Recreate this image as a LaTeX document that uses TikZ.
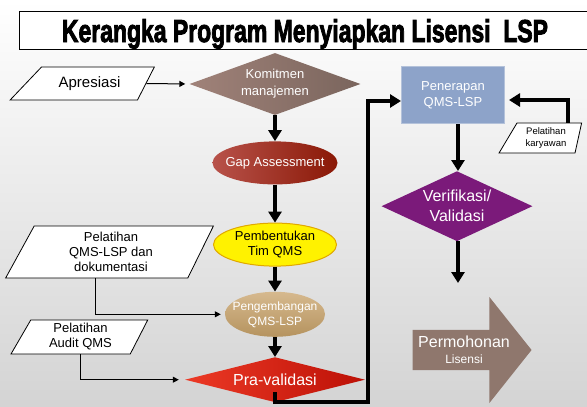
\documentclass[tikz,border=0pt]{standalone}
\usepackage{fontspec}
\setmainfont{Liberation Sans}
\newfontfamily\titlefont{Liberation Sans}[BoldFeatures={FakeBold=3}]
\usepackage{graphicx}
\usetikzlibrary{shapes.geometric}
\usetikzlibrary{shapes.arrows}
\usetikzlibrary{arrows.meta}
\usetikzlibrary{positioning}

\definecolor{komitmenL}{HTML}{A08279}
\definecolor{komitmenR}{HTML}{7A655D}
\definecolor{gapL}{HTML}{B8524A}
\definecolor{gapR}{HTML}{8A1806}
\definecolor{timfill}{HTML}{FFF200}
\definecolor{timdraw}{HTML}{E0A800}
\definecolor{kembangT}{HTML}{D6B98E}
\definecolor{kembangB}{HTML}{B5935F}
\definecolor{praL}{HTML}{EC3A26}
\definecolor{praR}{HTML}{BC1006}
\definecolor{terapfill}{HTML}{8DA3C9}
\definecolor{terapdraw}{HTML}{B4C2DA}
\definecolor{verifill}{HTML}{7B1A7A}
\definecolor{mohonfill}{HTML}{8F776D}

\tikzset{
  inputbox/.style={trapezium, trapezium stretches=true, draw=black, fill=white,
    line width=0.8pt, inner sep=1pt, align=center, font=\fontsize{13}{15}\selectfont},
  stepnode/.style={ellipse, inner xsep=-10pt, inner ysep=0pt, align=center, text=white,
    font=\fontsize{13}{15}\selectfont},
  decision/.style={diamond, inner sep=0pt, align=center, text=white},
  flowarrow/.style={->, >={Triangle[width=13pt,length=11pt]}, line width=3.5pt},
  feedarrow/.style={->, >={Triangle[width=6pt,length=6pt]}, line width=1pt},
}

\begin{document}
\begin{tikzpicture}[x=1pt, y=-1pt]
    \useasboundingbox (0,0) rectangle (587,407);
    \shade [top color=white, bottom color=white!83!black] (0,0) rectangle (587,407);
    \fill [white] (0,0) rectangle (587,5);

    % title
    \node (titlebox) [draw, fill=white, line width=1.2pt, minimum width=590pt, minimum height=38pt,
        anchor=north west] at (19,11) {};
    \node (title) [anchor=base, inner sep=0pt] at (305,42)
        {\resizebox{486pt}{23pt}{\titlefont\bfseries Kerangka Program Menyiapkan Lisensi\ \ LSP}};

    % main column
    \node [decision, aspect=2.76, left color=komitmenL, right color=komitmenR, minimum width=171pt,
        minimum height=62pt, font=\fontsize{13}{17}\selectfont] (komitmen) at (275,84) {Komitmen\\manajemen};
    \node [below=26pt of komitmen, stepnode, left color=gapL, right color=gapR,
        minimum width=125pt, minimum height=43pt] (gap) {Gap Assessment};
    \node [below=38pt of gap, stepnode, fill=timfill, draw=timdraw, line width=1pt, text=black,
        minimum width=123pt, minimum height=43pt] (tim) {Pembentukan\\Tim QMS};
    \node [below=25pt of tim, stepnode, top color=kembangT, bottom color=kembangB,
        minimum width=100pt, minimum height=45pt, font=\fontsize{12}{15}\selectfont] (kembang) {Pengembangan\\QMS-LSP};
    \node [below=20pt of kembang, decision, aspect=4, left color=praL, right color=praR,
        minimum width=180pt, minimum height=45pt, font=\fontsize{16}{18}\selectfont] (pravalidasi) {Pra-validasi};

    % inputs
    \node [inputbox, trapezium left angle=37.5, trapezium right angle=125, minimum width=145pt,
        minimum height=33pt, font=\fontsize{15}{17}\selectfont] (apresiasi) at (89.5,83.5) {Apresiasi};
    \node [inputbox, trapezium left angle=69, trapezium right angle=109, minimum width=208pt,
        minimum height=52pt] (pelatihanqms) at (111,252) {Pelatihan\\QMS-LSP dan\\dokumentasi};
    \node [inputbox, trapezium left angle=66, trapezium right angle=111.5, minimum width=137pt,
        minimum height=34pt] (pelatihanaudit) at (80.5,337) {Pelatihan\\Audit QMS};
    \node [inputbox, trapezium left angle=60, trapezium right angle=102, minimum width=83pt,
        minimum height=30pt, font=\fontsize{9.5}{12}\selectfont] (karyawan) at (546,138) {Pelatihan\\karyawan};

    % right column
    \node [rectangle, fill=terapfill, draw=terapdraw, line width=1pt, text=white, align=center,
        minimum width=103pt, minimum height=57pt, font=\fontsize{13}{16}\selectfont] (penerapan) at (453,95) {Penerapan\\QMS-LSP};
    \node [below=47pt of penerapan, xshift=4pt, decision, aspect=2.16, fill=verifill, minimum width=151pt,
        minimum height=70pt, font=\fontsize{16}{20}\selectfont] (verifikasi) {Verifikasi/\\Validasi};
    \node [single arrow, fill=mohonfill, text=white, align=center, inner sep=2pt,
        minimum height=119pt, minimum width=106pt, single arrow head extend=26pt,
        single arrow tip angle=103, font=\fontsize{16}{18}\selectfont] (permohonan) at (464,350)
        {Permohonan\\[-2pt]{\fontsize{12}{14}\selectfont Lisensi}};
    \coordinate (route) at (368,402);
    \coordinate (mohontop) at (458,283);

    % connectors
    \draw [feedarrow, shorten >=4pt] (apresiasi.east) -- (komitmen.west);
    \draw [flowarrow] (komitmen) -- (gap);
    \draw [flowarrow] (gap) -- (tim);
    \draw [flowarrow] (tim) -- (kembang);
    \draw [flowarrow] (kembang) -- (pravalidasi);
    \draw [feedarrow, shorten >=4pt] ([xshift=-16pt]pelatihanqms.south) |- (kembang.west);
    \draw [feedarrow, shorten >=6pt] (pelatihanaudit.south) |- (pravalidasi.west);
    \draw [flowarrow] ([yshift=10pt]pravalidasi.south) |- (route) |- ([yshift=-6pt]penerapan.west);
    \draw [flowarrow, shorten >=4pt] ([xshift=22pt]karyawan.north) |- ([yshift=-5pt]penerapan.east);
    \draw [flowarrow] (penerapan.south -| mohontop) -- (verifikasi.north -| mohontop);
    \draw [flowarrow] (verifikasi.south -| mohontop) -- (mohontop);
\end{tikzpicture}
\end{document}
